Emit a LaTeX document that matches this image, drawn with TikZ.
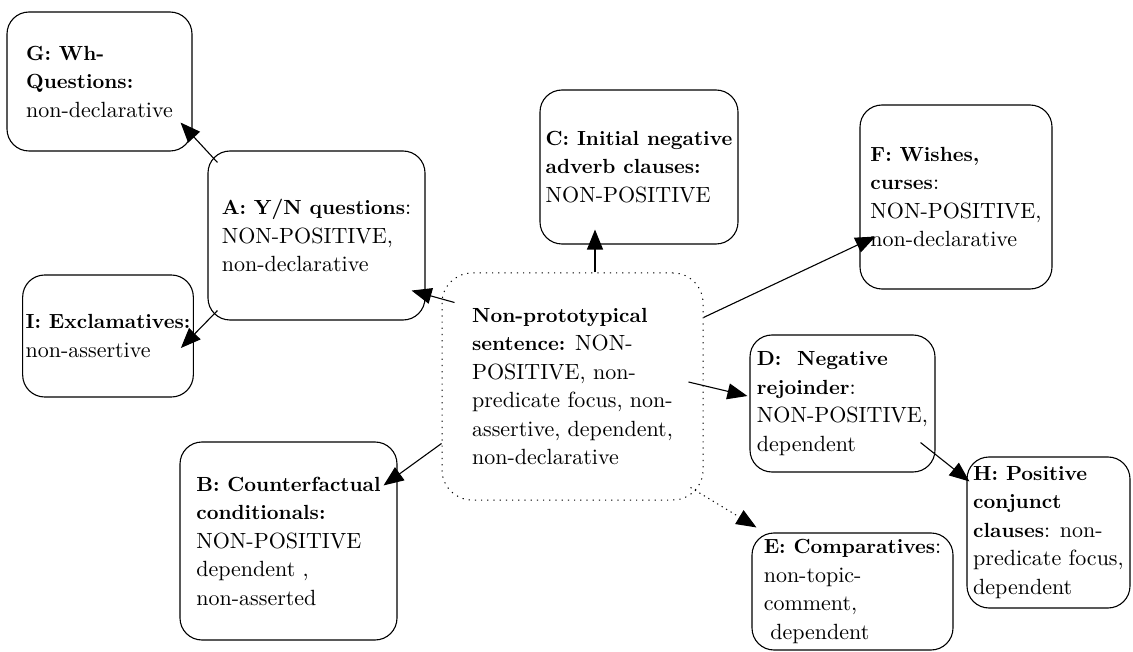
\documentclass[tikz,border=0pt]{standalone}
\usepackage{fontspec}
\setmainfont{lmroman10-regular.otf}[BoldFont=lmroman10-bold.otf,BoldFeatures={Scale=0.93}]
\usepackage{tikz}
\usetikzlibrary{arrows.meta}

\begin{document}
\begin{tikzpicture}[x=1pt,y=-1pt,
  box/.style={draw,line width=1.1pt,rounded corners=22pt,align=left,inner sep=3pt,font=\fontsize{22}{28.5}\selectfont},
  hub/.style={box,line width=1pt,dash pattern=on 1.2pt off 5pt,rounded corners=30pt},
  arr/.style={-{Triangle[length=20pt,width=16pt]},line width=1.1pt},
  darr/.style={arr,line width=1pt,dash pattern=on 1.2pt off 4pt}]
\useasboundingbox (0,0) rectangle (1133,652);
% boxes
\node[hub,minimum width=261pt,minimum height=227pt](N) at (572.5,386.5){\textbf{Non-prototypical}\\\textbf{sentence:} NON-\\POSITIVE, non-\\predicate focus, non-\\assertive, dependent,\\non-declarative};
\node[box,minimum width=185pt,minimum height=139pt](G) at (99.5,81.5){\textbf{G: Wh-}\\\textbf{Questions:}\\non-declarative};
\node[box,minimum width=217pt,minimum height=169pt](A) at (316.5,235.5){\textbf{A: Y/N questions}:\\NON-POSITIVE,\\non-declarative};
\node[box,minimum width=170pt,minimum height=122pt](I) at (108,336){\textbf{I: Exclamatives:}\\non-assertive};
\node[box,minimum width=198pt,minimum height=154pt](C) at (639,167){\textbf{C: Initial negative}\\\textbf{adverb clauses:}\\NON-POSITIVE};
\node[box,minimum width=192pt,minimum height=184pt](F) at (956,197){\textbf{F: Wishes,}\\\textbf{curses}:\\NON-POSITIVE,\\non-declarative};
\node[box,minimum width=185pt,minimum height=137pt](D) at (842.5,403.5){\textbf{D:\ \ Negative}\\\textbf{rejoinder}:\\NON-POSITIVE,\\dependent};
\node[box,minimum width=163pt,minimum height=151pt](H) at (1048.5,532.5){\textbf{H: Positive}\\\textbf{conjunct}\\\textbf{clauses}: non-\\predicate focus,\\dependent};
\node[box,minimum width=201pt,minimum height=117pt](E) at (852.5,591.5){\textbf{E: Comparatives}:\\non-topic-\\comment,\\\hspace*{.3em}dependent};
\node[box,minimum width=217pt,minimum height=198pt](B) at (288.5,541){\textbf{B: Counterfactual}\\\textbf{conditionals:}\\NON-POSITIVE\\dependent ,\\non-asserted};
% connectors
\draw[arr]([shift={(13,30)}]N.north west)--([shift={(-14,-30)}]A.south east);
\draw[arr]([shift={(22.5,0)}]N.north)--([shift={(-44,-15)}]C.south);
\draw[arr]([shift={(0,45)}]N.north east)--([shift={(16,-53)}]F.south west);
\draw[arr]([shift={(-15,-4.5)}]N.east)--([shift={(-2,-7.5)}]D.west);
\draw[arr]([shift={(0,-57)}]N.south west)--([shift={(-14,44)}]B.north east);
\draw[darr]([shift={(-13,-13)}]N.south east)--([shift={(5,-5)}]E.north west);
\draw[arr]([shift={(10,12)}]A.north west)--([shift={(-12,-29)}]G.south east);
\draw[arr]([shift={(10,-10)}]A.south west)--([shift={(-13,12)}]I.east);
\draw[arr]([shift={(-15,-30)}]D.south east)--([shift={(3,25)}]H.north west);
\end{tikzpicture}
\end{document}
